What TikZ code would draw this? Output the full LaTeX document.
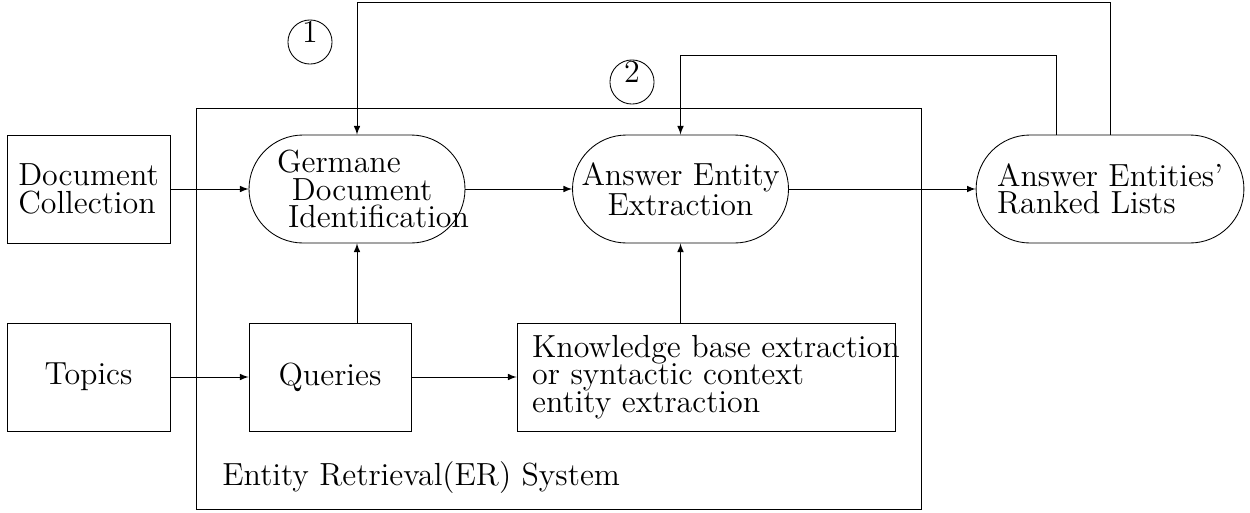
\documentclass[tikz,border=0pt]{standalone}
\usetikzlibrary{arrows}
\newcommand{\bigtxt}{\fontsize{14.8pt}{12.7pt}\selectfont}
\begin{document}
\begin{tikzpicture}[x=0.463pt, y=-0.463pt, font=\bigtxt, >=latex,
	box/.style = {draw, rectangle, minimum height=50pt, inner sep=4.8pt},
	pill/.style = {draw, rectangle, rounded corners=25pt, minimum height=50pt, inner sep=4.8pt},
	num/.style = {draw, circle, inner sep=0pt, minimum size=18.5pt, text depth=9.3pt}]
	
	\useasboundingbox (0,0) rectangle (1250,512);
	
	\node[draw, rectangle, minimum width=335.6pt, minimum height=186pt] (er) at (558.5,309) {};
	\node[anchor=base west, inner sep=0pt] (erlabel) at (222,485) {Entity Retrieval(ER) System};
	
	\node[box, minimum width=75.5pt, align=left] (doc) at (88.5,189) {Document\\Collection};
	\node[box, minimum width=75.5pt] (topics) at (88.5,377) {Topics};
	\node[pill, text width=90.4pt, align=left] (germ) at (357,189) {\hspace*{8.2pt}Germane\\\hspace*{15.1pt}Document\\\mbox{\hspace*{13.3pt}Identification}};
	\node[pill, minimum width=100pt, inner xsep=1pt, align=center] (aee) at (680.5,189) {Answer Entity\\Extraction};
	\node[pill, minimum width=124pt, align=left] (ranked) at (1110,189) {Answer Entities'\\Ranked Lists};
	\node[box, minimum width=75pt] (queries) at (330,377) {Queries};
	\node[box, text width=161pt, inner xsep=7pt, align=left] (know) at (706,377) {\mbox{Knowledge base extraction}\\or syntactic context\\entity extraction};
	
	\node[num] (c1) at (310,42) {1};
	\node[num] (c2) at (632,82) {2};
	
	\coordinate (top1) at (0,2);
	\coordinate (top2) at (0,55);
	
	\draw[->] (doc) -- (germ);
	\draw[->] (germ) -- (aee);
	\draw[->] (aee) -- (ranked);
	\draw[->] (topics) -- (queries);
	\draw[->] (queries) -- (know);
	\draw[->] (germ.south |- queries.north) -- (germ.south);
	\draw[->] (aee.south |- know.north) -- (aee.south);
	
	\draw[->] (ranked.north) -- (ranked.north |- top1) -- (germ.north |- top1) -- (germ.north);
	\draw[->] ([xshift=-25pt]ranked.north) -- ([xshift=-25pt]ranked.north |- top2) -- (aee.north |- top2) -- (aee.north);
\end{tikzpicture}
\end{document}
